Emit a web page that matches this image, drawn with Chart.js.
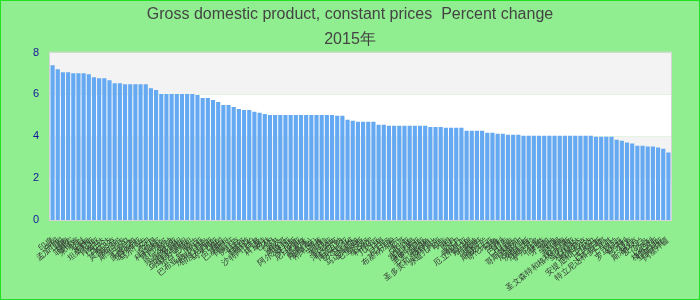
<!DOCTYPE html>
<html>
<head>
<meta charset="utf-8">
<script src="https://cdn.jsdelivr.net/npm/chart.js@4"></script>
<style>
  html, body { margin: 0; padding: 0; background: #90ee90; }
  canvas { display: block; }
</style>
</head>
<body>
<canvas id="chart" width="700" height="300"></canvas>
<script>
const titleLines = ['Gross domestic product, constant prices  Percent change', '2015年'];

const countries = [
  '印度', '中国', '孟加拉国', '越南', '菲律宾', '柬埔寨', '老挝', '缅甸', '坦桑尼亚', '肯尼亚',
  '卢旺达', '乌干达', '莫桑比克', '尼泊尔', '斯里兰卡', '巴拿马', '多米尼加', '玻利维亚', '马尔代夫', '不丹',
  '吉布提', '科特迪瓦', '塞内加尔', '加纳', '埃塞俄比亚', '土库曼斯坦', '乌兹别克斯坦', '塔吉克斯坦', '蒙古', '巴布亚新几内亚',
  '所罗门群岛', '印度尼西亚', '马来西亚', '泰国', '巴基斯坦', '阿富汗', '伊拉克', '卡塔尔', '阿联酋', '沙特阿拉伯',
  '阿曼', '科威特', '巴林', '约旦', '埃及', '摩洛哥', '阿尔及利亚', '突尼斯', '尼日利亚', '喀麦隆',
  '刚果(金)', '刚果(布)', '加蓬', '安哥拉', '赞比亚', '津巴布韦', '博茨瓦纳', '纳米比亚', '马拉维', '马达加斯加',
  '毛里求斯', '塞舌尔', '科摩罗', '几内亚', '马里', '尼日尔', '布基纳法索', '贝宁', '多哥', '冈比亚',
  '塞拉利昂', '利比里亚', '毛里塔尼亚', '佛得角', '圣多美和普林西比', '赤道几内亚', '中非', '乍得', '苏丹', '南苏丹',
  '厄立特里亚', '索马里', '布隆迪', '莱索托', '斯威士兰', '哥伦比亚', '秘鲁', '智利', '巴拉圭', '乌拉圭',
  '哥斯达黎加', '尼加拉瓜', '洪都拉斯', '危地马拉', '萨尔瓦多', '伯利兹', '牙买加', '海地', '圭亚那', '苏里南',
  '圣文森特和格林纳丁斯', '圣卢西亚', '格林纳达', '多米尼克', '安提瓜和巴布达', '巴哈马', '巴巴多斯', '特立尼达和多巴哥', '土耳其', '波兰',
  '罗马尼亚', '匈牙利', '捷克', '斯洛伐克', '爱尔兰', '冰岛', '以色列', '格鲁吉亚', '亚美尼亚', '阿塞拜疆'
];

const growth = [
  7.39, 7.20, 7.06, 7.06, 7.01, 7.01, 7.01, 6.97, 6.82, 6.78,
  6.78, 6.68, 6.54, 6.54, 6.49, 6.49, 6.49, 6.49, 6.49, 6.30,
  6.21, 6.02, 6.02, 6.02, 6.02, 6.02, 6.02, 6.02, 5.97, 5.83,
  5.83, 5.73, 5.64, 5.50, 5.50, 5.40, 5.31, 5.26, 5.26, 5.17,
  5.12, 5.07, 5.02, 5.02, 5.02, 5.02, 5.02, 5.02, 5.02, 5.02,
  5.02, 5.02, 5.02, 5.02, 5.02, 4.98, 4.98, 4.79, 4.74, 4.69,
  4.69, 4.69, 4.69, 4.55, 4.55, 4.50, 4.50, 4.50, 4.50, 4.50,
  4.50, 4.50, 4.50, 4.45, 4.45, 4.45, 4.41, 4.41, 4.41, 4.41,
  4.27, 4.27, 4.27, 4.27, 4.17, 4.17, 4.12, 4.12, 4.08, 4.08,
  4.08, 4.03, 4.03, 4.03, 4.03, 4.03, 4.03, 4.03, 4.03, 4.03,
  4.03, 4.03, 4.03, 4.03, 4.03, 3.98, 3.98, 3.98, 3.98, 3.84,
  3.79, 3.70, 3.65, 3.55, 3.55, 3.51, 3.51, 3.46, 3.41, 3.22
];

const yTicks = [0, 2, 4, 6, 8];

// green page, striped plot area, grey frame
const backdrop = {
  id: 'backdrop',
  beforeDraw(chart) {
    const { ctx, chartArea: area, scales } = chart;
    ctx.save();
    ctx.fillStyle = '#90ee90';
    ctx.fillRect(0, 0, chart.width, chart.height);
    ctx.strokeStyle = '#22e022';
    ctx.lineWidth = 1;
    ctx.strokeRect(0.5, 0.5, chart.width - 1, chart.height - 1);

    for (let i = 0; i < yTicks.length - 1; i++) {
      const yTop = scales.y.getPixelForValue(yTicks[i + 1]);
      const yBot = scales.y.getPixelForValue(yTicks[i]);
      ctx.fillStyle = i % 2 === 0 ? '#ffffff' : '#f3f3f3';
      ctx.fillRect(area.left, yTop, area.right - area.left, yBot - yTop);
    }
    ctx.strokeStyle = '#d4d4d4';
    ctx.strokeRect(area.left - 0.5, area.top - 0.5, area.right - area.left + 1, area.bottom - area.top + 1);
    ctx.restore();
  }
};

const data = {
  labels: countries,
  datasets: [
    {
      data: growth,
      backgroundColor: '#64a9f1',
      borderWidth: 0,
      barPercentage: 0.8,
      categoryPercentage: 1.0,
    },
  ],
};

const config = {
  type: 'bar',
  data: data,
  options: {
    responsive: false,
    animation: false,
    layout: { padding: 0 },
    plugins: {
      legend: { display: false },
      tooltip: { enabled: false },
      title: {
        display: true,
        text: titleLines,
        color: '#444444',
        font: { family: 'Liberation Sans, Arial, sans-serif', size: 16, weight: 'normal', lineHeight: 1.55 },
        padding: { top: 2, bottom: 1 },
      },
    },
    scales: {
      x: {
        grid: { display: false },
        border: { display: false },
        ticks: {
          autoSkip: false,
          maxRotation: 38,
          minRotation: 38,
          padding: 8,
          color: '#333333',
          font: { family: 'Liberation Sans, sans-serif', size: 8 },
        },
        afterFit(scale) { scale.height = 80; },
      },
      y: {
        min: 0,
        max: 8,
        grid: { display: false },
        border: { display: false },
        ticks: {
          stepSize: 2,
          padding: 3,
          color: '#14149a',
          font: { family: 'Liberation Sans, Arial, sans-serif', size: 11 },
        },
        afterFit(scale) { scale.width = 50; },
      },
      // empty right margin so the title stays centred on the page
      yRight: {
        position: 'right',
        grid: { display: false },
        border: { display: false },
        ticks: { display: false },
        afterFit(scale) { scale.width = 29; },
      },
    },
  },
  plugins: [backdrop],
};

new Chart(document.getElementById('chart'), config);
</script>
</body>
</html>
